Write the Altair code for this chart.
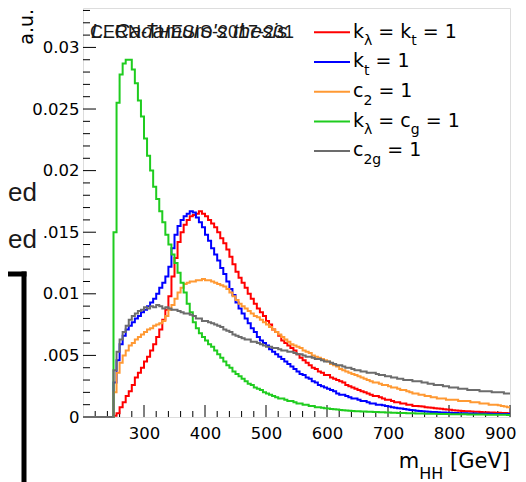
import altair as alt
import pandas as pd

# ------------------------------------------------------------------ data
X_RANGE = [200, 900]
Y_RANGE = [0, 0.0332]
BIN_WIDTH = 5
FIRST_BIN = 250          # histograms are empty below 2*m_H
EMPTY_BINS = [0.0] * 10  # bins 200 ... 245

# bin contents, bins 250, 255, ..., 895 (10 bins per row = 50 GeV)
red = [
    0.0001, 0.0003, 0.0008, 0.0012, 0.0017, 0.0021, 0.0026, 0.0032, 0.0036, 0.0040,
    0.0045, 0.0049, 0.0054, 0.0059, 0.0065, 0.0071, 0.0079, 0.0087, 0.0098, 0.0114,
    0.0129, 0.0142, 0.0150, 0.0156, 0.0160, 0.0163, 0.0164, 0.0165, 0.0167, 0.0165,
    0.0163, 0.0160, 0.0157, 0.0154, 0.0150, 0.0145, 0.0141, 0.0136, 0.0130, 0.0124,
    0.0118, 0.0113, 0.0109, 0.0105, 0.0100, 0.0096, 0.0092, 0.0088, 0.0085, 0.0082,
    0.0078, 0.0075, 0.0071, 0.0069, 0.0066, 0.0062, 0.0060, 0.0058, 0.0056, 0.0054,
    0.0051, 0.0048, 0.0046, 0.0044, 0.0042, 0.0040, 0.0039, 0.0037, 0.0036, 0.0034,
    0.0034, 0.0032, 0.0031, 0.0030, 0.0029, 0.0028, 0.0026, 0.0025, 0.0024, 0.0023,
    0.0022, 0.0021, 0.0020, 0.0019, 0.0018, 0.0017, 0.0017, 0.0016, 0.0015, 0.0014,
    0.0014, 0.0013, 0.0012, 0.0012, 0.0011, 0.0011, 0.0010, 0.0010, 0.0009, 0.0009,
    0.00088, 0.00085, 0.00080, 0.00078, 0.00075, 0.00072, 0.00070, 0.00066, 0.00063, 0.00060,
    0.00058, 0.00055, 0.00053, 0.00050, 0.00049, 0.00047, 0.00046, 0.00045, 0.00043, 0.00042,
    0.00040, 0.00039, 0.00038, 0.00037, 0.00036, 0.00035, 0.00034, 0.00033, 0.00032, 0.00031,
]
blue = [
    0.0028, 0.0046, 0.0059, 0.0066, 0.0071, 0.0074, 0.0077, 0.0080, 0.0082, 0.0085,
    0.0087, 0.0090, 0.0093, 0.0096, 0.0100, 0.0105, 0.0109, 0.0114, 0.0122, 0.0137,
    0.0148, 0.0155, 0.0160, 0.0163, 0.0165, 0.0167, 0.0166, 0.0162, 0.0158, 0.0154,
    0.0148, 0.0143, 0.0137, 0.0132, 0.0127, 0.0121, 0.0116, 0.0110, 0.0104, 0.0099,
    0.0093, 0.0088, 0.0084, 0.0080, 0.0076, 0.0072, 0.0069, 0.0065, 0.0062, 0.0060,
    0.0058, 0.0055, 0.0053, 0.0051, 0.0049, 0.0047, 0.0045, 0.0043, 0.0041, 0.0039,
    0.0037, 0.0035, 0.0034, 0.0032, 0.0031, 0.0029, 0.0028, 0.0026, 0.0025, 0.0024,
    0.0023, 0.0022, 0.0021, 0.0019, 0.0018, 0.0018, 0.0017, 0.0016, 0.0015, 0.0015,
    0.0014, 0.0013, 0.0013, 0.0012, 0.0011, 0.0011, 0.0010, 0.0010, 0.00095, 0.00090,
    0.00085, 0.00080, 0.00076, 0.00072, 0.00068, 0.00064, 0.00060, 0.00057, 0.00054, 0.00051,
    0.00049, 0.00047, 0.00045, 0.00043, 0.00041, 0.00040, 0.00038, 0.00037, 0.00036, 0.00035,
    0.00034, 0.00033, 0.00032, 0.00031, 0.00030, 0.00030, 0.00029, 0.00028, 0.00028, 0.00027,
    0.00027, 0.00026, 0.00026, 0.00026, 0.00025, 0.00025, 0.00025, 0.00024, 0.00024, 0.00024,
]
orange = [
    0.0020, 0.0036, 0.0044, 0.0050, 0.0054, 0.0058, 0.0060, 0.0063, 0.0065, 0.0067,
    0.0069, 0.0071, 0.0072, 0.0074, 0.0075, 0.0076, 0.0078, 0.0082, 0.0087, 0.0091,
    0.0096, 0.0101, 0.0105, 0.0108, 0.0109, 0.0110, 0.0110, 0.0111, 0.0111, 0.0112,
    0.0111, 0.0111, 0.0110, 0.0109, 0.0108, 0.0107, 0.0106, 0.0104, 0.0101, 0.0098,
    0.0095, 0.0092, 0.0090, 0.0088, 0.0086, 0.0084, 0.0082, 0.0081, 0.0079, 0.0077,
    0.0075, 0.0073, 0.0071, 0.0069, 0.0067, 0.0065, 0.0063, 0.0061, 0.0059, 0.0058,
    0.0057, 0.0056, 0.0054, 0.0053, 0.0052, 0.0050, 0.0049, 0.0048, 0.0047, 0.0046,
    0.0045, 0.0043, 0.0042, 0.0041, 0.0039, 0.0038, 0.0037, 0.0036, 0.0035, 0.0034,
    0.0033, 0.0032, 0.0031, 0.0030, 0.0029, 0.0028, 0.0028, 0.0027, 0.0026, 0.0026,
    0.0025, 0.0024, 0.0024, 0.0023, 0.0022, 0.0022, 0.0021, 0.0020, 0.0019, 0.0019,
    0.0018, 0.0018, 0.0017, 0.0017, 0.0016, 0.0016, 0.0015, 0.0015, 0.0015, 0.0014,
    0.0014, 0.0014, 0.0014, 0.0013, 0.0013, 0.0013, 0.0013, 0.0012, 0.0012, 0.0012,
    0.0011, 0.0011, 0.0011, 0.0010, 0.0010, 0.0010, 0.00095, 0.00090, 0.00085, 0.00080,
]
green = [
    0.0150, 0.0255, 0.0278, 0.0287, 0.0290, 0.0290, 0.0282, 0.0271, 0.0257, 0.0244,
    0.0226, 0.0212, 0.0200, 0.0187, 0.0177, 0.0167, 0.0158, 0.0148, 0.0140, 0.0132,
    0.0125, 0.0117, 0.0109, 0.0101, 0.0092, 0.0085, 0.0077, 0.0072, 0.0068, 0.0065,
    0.0062, 0.0059, 0.0057, 0.0054, 0.0051, 0.0048, 0.0045, 0.0042, 0.0040, 0.0037,
    0.0035, 0.0033, 0.0031, 0.0029, 0.0027, 0.0026, 0.0024, 0.0023, 0.0022, 0.0020,
    0.0019, 0.0018, 0.0017, 0.0016, 0.0015, 0.0015, 0.0014, 0.0013, 0.0013, 0.0012,
    0.0011, 0.0011, 0.0010, 0.0010, 0.0009, 0.0009, 0.0008, 0.0008, 0.00075, 0.00072,
    0.00068, 0.00065, 0.00062, 0.00060, 0.00057, 0.00055, 0.00053, 0.00050, 0.00049, 0.00047,
    0.00046, 0.00045, 0.00044, 0.00043, 0.00042, 0.00041, 0.00040, 0.00039, 0.00038, 0.00037,
    0.00036, 0.00035, 0.00034, 0.00033, 0.00033, 0.00032, 0.00031, 0.00030, 0.00030, 0.00029,
    0.00028, 0.00028, 0.00027, 0.00027, 0.00026, 0.00026, 0.00025, 0.00025, 0.00024, 0.00024,
    0.00023, 0.00023, 0.00023, 0.00022, 0.00022, 0.00022, 0.00021, 0.00021, 0.00021, 0.00020,
    0.00020, 0.00020, 0.00019, 0.00019, 0.00019, 0.00018, 0.00018, 0.00018, 0.00018, 0.00017,
]
gray = [
    0.0038, 0.0053, 0.0063, 0.0069, 0.0074, 0.0079, 0.0082, 0.0084, 0.0086, 0.0087,
    0.0089, 0.0088, 0.0090, 0.0089, 0.0091, 0.0090, 0.0088, 0.0089, 0.0088, 0.0087,
    0.0087, 0.0086, 0.0085, 0.0084, 0.0084, 0.0083, 0.0082, 0.0080, 0.0080, 0.0078,
    0.0078, 0.0077, 0.0076, 0.0075, 0.0074, 0.0073, 0.0071, 0.0070, 0.0069, 0.0067,
    0.0066, 0.0065, 0.0064, 0.0063, 0.0063, 0.0061, 0.0061, 0.0060, 0.0059, 0.0058,
    0.0057, 0.0057, 0.0056, 0.0056, 0.0055, 0.0054, 0.0054, 0.0053, 0.0053, 0.0052,
    0.0051, 0.0051, 0.0050, 0.0049, 0.0049, 0.0048, 0.0047, 0.0047, 0.0046, 0.0045,
    0.0045, 0.0044, 0.0043, 0.0042, 0.0042, 0.0041, 0.0040, 0.0040, 0.0039, 0.0038,
    0.0038, 0.0037, 0.0037, 0.0036, 0.0036, 0.0036, 0.0035, 0.0034, 0.0034, 0.0033,
    0.0033, 0.0032, 0.0032, 0.0031, 0.0031, 0.0030, 0.0030, 0.0030, 0.0029, 0.0029,
    0.0029, 0.0028, 0.0028, 0.0027, 0.0027, 0.0026, 0.0026, 0.0026, 0.0025, 0.0025,
    0.0024, 0.0024, 0.0024, 0.0023, 0.0023, 0.0023, 0.0022, 0.0022, 0.0022, 0.0022,
    0.0021, 0.0021, 0.0021, 0.0021, 0.0020, 0.0020, 0.0020, 0.0020, 0.0019, 0.0019,
]

series_values = [red, blue, orange, green, gray]
series_colors = ["#ff0000", "#0000ff", "#ff9933", "#1fcc1f", "#6c6c6c"]

# legend entries: (text, is_subscript) segments
legend_labels = [
    [("k", 0), ("λ", 1), (" = k", 0), ("t", 1), (" = 1", 0)],
    [("k", 0), ("t", 1), (" = 1", 0)],
    [("c", 0), ("2", 1), (" = 1", 0)],
    [("k", 0), ("λ", 1), (" = c", 0), ("g", 1), (" = 1", 0)],
    [("c", 0), ("2g", 1), (" = 1", 0)],
]
x_title = [("m", 0), ("HH", 1), (" [GeV]", 0)]
y_title = "a.u."
x_tick_labels = [300, 400, 500, 600, 700, 800, 900]
y_tick_labels = [0, 0.005, 0.01, 0.015, 0.02, 0.025, 0.03]
watermark = "CERN-THESIS-2017-231"
overlay = "L. Cadamuro's thesis"

# ------------------------------------------------------------------ layout
W, H = 427, 409
FONT = "DejaVu Sans"
# approximate DejaVu Sans advance widths (em)
ADV = {' ': 0.318, '=': 0.838, '1': 0.636, '2': 0.636, 'k': 0.579, 't': 0.392,
       'c': 0.550, 'g': 0.635, 'λ': 0.592, 'm': 0.974, 'H': 0.752, '[': 0.390,
       'G': 0.775, 'e': 0.615, 'V': 0.684, ']': 0.390}


def layout_segments(segs, x0, base, fs, sfs, sdy):
    out, x = [], x0
    for txt, sub in segs:
        size = sfs if sub else fs
        lead = len(txt) - len(txt.lstrip(' '))
        x += lead * ADV[' '] * size
        body = txt.strip(' ')
        out.append(dict(px=x, py=base + (sdy if sub else 0), t=body, fs=size))
        x += sum(ADV[c] for c in body) * size
    return out, x


x_sc = alt.Scale(domain=X_RANGE, nice=False, zero=False)
y_sc = alt.Scale(domain=Y_RANGE, nice=False, zero=False)
x_ax = alt.Axis(values=x_tick_labels, format="d", labelFont=FONT, labelFontSize=16.5,
                labelColor="black", labelPadding=8, domain=False, ticks=False,
                tickSize=0, grid=False, title=None, labelFlush=True,
                labelFlushOffset=6)
y_ax = alt.Axis(values=y_tick_labels, labelFont=FONT, labelFontSize=16.5,
                labelColor="black", labelPadding=4, domain=False, ticks=False,
                tickSize=0, grid=False, title=None,
                labelExpr="datum.value == 0.015 ? '.015' : datum.value == 0.005 ? '.005' : format(datum.value, '~g')")

layers = []

# inner ROOT-style ticks
x_major = x_tick_labels
x_minor = [v for v in range(220, 900, 20) if v % 100 != 0]
y_major = y_tick_labels[1:]
y_minor = [round(i * 0.001, 3) for i in range(1, 34) if i % 5 != 0]
for vals, length in [(x_major, 12), (x_minor, 6)]:
    layers.append(alt.Chart(pd.DataFrame({"v": vals})).mark_rule(color="black", strokeWidth=1)
                  .encode(x=alt.X("v:Q", scale=x_sc, axis=x_ax),
                          y=alt.value(H), y2=alt.value(H - length)))
for vals, length in [(y_major, 13), (y_minor, 7)]:
    layers.append(alt.Chart(pd.DataFrame({"v": vals})).mark_rule(color="black", strokeWidth=1)
                  .encode(y=alt.Y("v:Q", scale=y_sc, axis=y_ax),
                          x=alt.value(0), x2=alt.value(length)))

# histograms
for vals, col in zip(series_values, series_colors):
    contents = EMPTY_BINS + vals
    edges = [X_RANGE[0] + i * BIN_WIDTH for i in range(len(contents))]
    df = pd.DataFrame({"m": edges + [X_RANGE[1]], "v": contents + [contents[-1]]})
    layers.append(alt.Chart(df).mark_line(interpolate="step-after", color=col, strokeWidth=2,
                                          strokeJoin="miter", strokeCap="butt")
                  .encode(x=alt.X("m:Q", scale=x_sc, axis=x_ax),
                          y=alt.Y("v:Q", scale=y_sc, axis=y_ax)))

# legend
LEG_Y0, LEG_DY = 24.3, 29.7
leg_lines = pd.DataFrame({"ly": [LEG_Y0 + i * LEG_DY for i in range(len(series_colors))],
                          "col": series_colors})
layers.append(alt.Chart(leg_lines).mark_rule(strokeWidth=2)
              .encode(x=alt.value(231), x2=alt.value(267),
                      y=alt.Y("ly:Q", scale=None), color=alt.Color("col:N", scale=None)))

segs = []
for i, lab in enumerate(legend_labels):
    s, _ = layout_segments(lab, 270, LEG_Y0 + 5.3 + i * LEG_DY, 19, 14, 7.5)
    segs += s
# x-axis title, right aligned to the frame
_, xend = layout_segments(x_title, 0, 0, 21, 16, 11)
s, _ = layout_segments(x_title, W - xend, 460, 21, 16, 11)
segs += s
seg_df = pd.DataFrame(segs)
layers.append(alt.Chart(seg_df).mark_text(font=FONT, align="left", baseline="alphabetic", color="black")
              .encode(x=alt.X("px:Q", scale=None), y=alt.Y("py:Q", scale=None),
                      text="t:N", size=alt.Size("fs:Q", scale=None)))

# y title
layers.append(alt.Chart(pd.DataFrame({"t": [y_title]})).mark_text(
    font=FONT, fontSize=19, angle=270, align="right", baseline="alphabetic", color="black")
    .encode(x=alt.value(-50), y=alt.value(1), text="t:N"))

# watermark texts
layers.append(alt.Chart(pd.DataFrame({"t": [watermark]})).mark_text(
    font="Liberation Sans", fontSize=18, align="left", baseline="alphabetic", color="#1a1a1a")
    .encode(x=alt.value(7), y=alt.value(30.3), text="t:N"))
layers.append(alt.Chart(pd.DataFrame({"t": [overlay]})).mark_text(
    font="Liberation Sans", fontSize=21, fontStyle="italic", align="left",
    baseline="alphabetic", color="#1a1a1a")
    .encode(x=alt.value(8), y=alt.value(30.3), text="t:N"))

# cropped neighbouring slide on the left
layers.append(alt.Chart(pd.DataFrame({"t": ["ed", "ed"], "py": [193, 240]})).mark_text(
    font="Liberation Sans", fontSize=26, align="right", baseline="alphabetic", color="#1a1a1a")
    .encode(x=alt.value(-46), y=alt.Y("py:Q", scale=None), text="t:N"))
layers.append(alt.Chart(pd.DataFrame({"a": [0]})).mark_rule(color="black", strokeWidth=5)
              .encode(x=alt.value(-95), x2=alt.value(-56.5), y=alt.value(266)))
layers.append(alt.Chart(pd.DataFrame({"a": [0]})).mark_rule(color="black", strokeWidth=5)
              .encode(x=alt.value(-59), y=alt.value(263.5), y2=alt.value(480)))

chart = alt.layer(*layers).properties(
    width=W, height=H,
    autosize=alt.AutoSizeParams(type="none"),
    padding={"left": 75, "top": 0, "right": 8, "bottom": 66},
).configure_view(stroke="black", strokeWidth=2).configure(background="white")

chart.save("out.html", embed_options={"renderer": "svg", "actions": False})
